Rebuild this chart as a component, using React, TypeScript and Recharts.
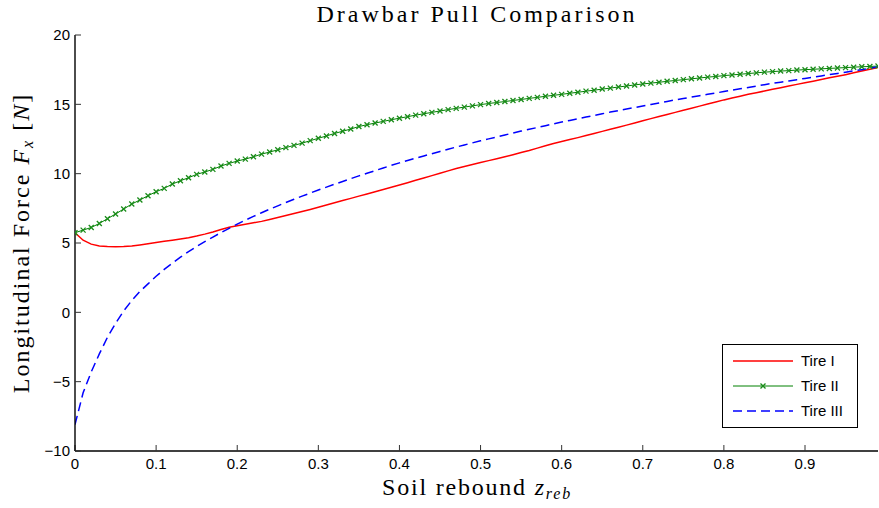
import { LineChart, Line, XAxis, YAxis, Legend } from 'recharts';

const zValues = [
  0, 0.01, 0.02, 0.03, 0.04, 0.05, 0.06, 0.07, 0.08, 0.09,
  0.1, 0.11, 0.12, 0.13, 0.14, 0.15, 0.16, 0.17, 0.18, 0.19,
  0.2, 0.21, 0.22, 0.23, 0.24, 0.25, 0.26, 0.27, 0.28, 0.29,
  0.3, 0.31, 0.32, 0.33, 0.34, 0.35, 0.36, 0.37, 0.38, 0.39,
  0.4, 0.41, 0.42, 0.43, 0.44, 0.45, 0.46, 0.47, 0.48, 0.49,
  0.5, 0.51, 0.52, 0.53, 0.54, 0.55, 0.56, 0.57, 0.58, 0.59,
  0.6, 0.61, 0.62, 0.63, 0.64, 0.65, 0.66, 0.67, 0.68, 0.69,
  0.7, 0.71, 0.72, 0.73, 0.74, 0.75, 0.76, 0.77, 0.78, 0.79,
  0.8, 0.81, 0.82, 0.83, 0.84, 0.85, 0.86, 0.87, 0.88, 0.89,
  0.9, 0.91, 0.92, 0.93, 0.94, 0.95, 0.96, 0.97, 0.98, 0.99,
];

const tire1 = [
  5.74, 5.2, 4.92, 4.78, 4.74, 4.73, 4.74, 4.78, 4.86, 4.95,
  5.04, 5.12, 5.2, 5.29, 5.38, 5.5, 5.64, 5.8, 5.98, 6.14,
  6.25, 6.36, 6.46, 6.56, 6.7, 6.84, 6.98, 7.12, 7.27, 7.42,
  7.58, 7.74, 7.9, 8.06, 8.22, 8.38, 8.54, 8.7, 8.86, 9.02,
  9.18, 9.35, 9.52, 9.69, 9.86, 10.03, 10.2, 10.37, 10.52, 10.66,
  10.8, 10.94, 11.08, 11.22, 11.37, 11.52, 11.67, 11.84, 12.01, 12.18,
  12.32, 12.46, 12.6, 12.75, 12.9, 13.05, 13.2, 13.35, 13.5, 13.66,
  13.82, 13.97, 14.12, 14.27, 14.42, 14.57, 14.72, 14.87, 15.02, 15.17,
  15.32, 15.45, 15.58, 15.72, 15.84, 15.96, 16.08, 16.2, 16.32, 16.44,
  16.55, 16.67, 16.79, 16.91, 17.02, 17.14, 17.27, 17.4, 17.53, 17.66,
];

const tire2 = [
  5.74, 5.93, 6.12, 6.41, 6.75, 7.09, 7.45, 7.81, 8.1, 8.41,
  8.7, 8.94, 9.25, 9.49, 9.71, 9.95, 10.12, 10.31, 10.55, 10.74,
  10.91, 11.05, 11.22, 11.41, 11.56, 11.72, 11.88, 12.04, 12.2, 12.38,
  12.55, 12.72, 12.9, 13.06, 13.22, 13.4, 13.53, 13.65, 13.77, 13.89,
  14.0, 14.11, 14.22, 14.32, 14.42, 14.52, 14.62, 14.71, 14.8, 14.89,
  14.98, 15.06, 15.13, 15.2, 15.28, 15.35, 15.43, 15.5, 15.58, 15.65,
  15.72, 15.8, 15.87, 15.95, 16.02, 16.1, 16.17, 16.25, 16.32, 16.4,
  16.47, 16.53, 16.59, 16.66, 16.72, 16.78, 16.84, 16.9, 16.96, 17.01,
  17.07, 17.12, 17.17, 17.22, 17.27, 17.32, 17.36, 17.4, 17.43, 17.47,
  17.5, 17.53, 17.56, 17.59, 17.62, 17.65, 17.68, 17.71, 17.73, 17.76,
];

const tire3 = [
  -8.1, -5.8, -4.3, -3.0, -1.8, -0.8, 0.1, 0.85, 1.5, 2.05,
  2.6, 3.1, 3.55, 3.98, 4.38, 4.75, 5.1, 5.43, 5.75, 6.06,
  6.36, 6.65, 6.92, 7.18, 7.44, 7.68, 7.92, 8.15, 8.38, 8.6,
  8.82, 9.03, 9.24, 9.44, 9.64, 9.84, 10.03, 10.22, 10.41, 10.6,
  10.78, 10.95, 11.12, 11.28, 11.44, 11.6, 11.76, 11.92, 12.07, 12.22,
  12.37, 12.51, 12.65, 12.79, 12.93, 13.07, 13.2, 13.33, 13.46, 13.59,
  13.72, 13.84, 13.96, 14.08, 14.2, 14.32, 14.44, 14.55, 14.66, 14.77,
  14.88, 14.99, 15.1, 15.21, 15.32, 15.42, 15.52, 15.62, 15.72, 15.82,
  15.92, 16.02, 16.12, 16.22, 16.32, 16.42, 16.51, 16.6, 16.69, 16.78,
  16.87, 16.96, 17.05, 17.14, 17.23, 17.32, 17.41, 17.5, 17.6, 17.72,
];

const xTicks = [0, 0.1, 0.2, 0.3, 0.4, 0.5, 0.6, 0.7, 0.8, 0.9];
const yTicks = [-10, -5, 0, 5, 10, 15, 20];

const seriesNames = ['Tire I', 'Tire II', 'Tire III'];

const data = zValues.map((z, i) => ({ z, tire1: tire1[i], tire2: tire2[i], tire3: tire3[i] }));

const tickFont = { fill: '#000', fontSize: 15, fontFamily: '"Liberation Sans", Arial, sans-serif' };
const serif = '"Liberation Serif", "Times New Roman", serif';

// little "x" marker like matlab's 'x-' style
const Cross = (props: any) => {
  const { cx, cy, index } = props;
  if (cx == null || cy == null) return <g key={index} />;
  const r = 2.5;
  return (
    <path
      key={index}
      d={`M${cx - r},${cy - r}L${cx + r},${cy + r}M${cx - r},${cy + r}L${cx + r},${cy - r}`}
      stroke="#1a8c1a"
      strokeWidth={1.3}
      fill="none"
    />
  );
};

const renderLegend = () => (
  <div style={{ width: 136, height: 84, border: '1.4px solid #000', background: '#fff', boxSizing: 'border-box', fontFamily: '"Liberation Sans", Arial, sans-serif', fontSize: 15, color: '#000' }}>
    {seriesNames.map((name, i) => (
      <div key={name} style={{ display: 'flex', alignItems: 'center', height: 25, marginTop: i === 0 ? 3 : 0 }}>
        <svg width={78} height={12}>
          {i === 0 && <line x1={10} y1={6} x2={70} y2={6} stroke="#ff0000" strokeWidth={1.5} />}
          {i === 1 && (
            <g>
              <line x1={10} y1={6} x2={70} y2={6} stroke="#008000" strokeWidth={1} />
              <path d="M37.5,3.5L42.5,8.5M37.5,8.5L42.5,3.5" stroke="#1a8c1a" strokeWidth={1.3} />
            </g>
          )}
          {i === 2 && <line x1={10} y1={6} x2={70} y2={6} stroke="#0000ff" strokeWidth={1.5} strokeDasharray="9 5" />}
        </svg>
        <span>{name}</span>
      </div>
    ))}
  </div>
);

export default function App() {
  return (
    <div style={{ position: 'absolute', left: 0, top: 0, width: 879, height: 508, background: '#fff' }}>
      <LineChart width={879} height={508} data={data} margin={{ top: 35, right: 1, bottom: 0, left: 0 }}>
        <XAxis
          dataKey="z"
          type="number"
          domain={[0, 0.99]}
          ticks={xTicks}
          allowDataOverflow
          height={57}
          tick={tickFont}
          tickSize={-6}
          tickMargin={13}
          axisLine={{ stroke: '#000', strokeWidth: 1.4 }}
          tickLine={{ stroke: '#333' }}
        />
        <XAxis
          xAxisId="top"
          dataKey="z"
          type="number"
          orientation="top"
          domain={[0, 0.99]}
          ticks={xTicks}
          allowDataOverflow
          height={0}
          tick={false}
          tickSize={-6}
          axisLine={{ stroke: '#000', strokeWidth: 1.4 }}
          tickLine={{ stroke: '#333' }}
        />
        <YAxis
          domain={[-10, 20]}
          ticks={yTicks}
          allowDataOverflow
          width={75}
          tick={tickFont}
          tickSize={-6}
          tickMargin={11}
          tickFormatter={(v: number) => String(v).replace('-', '\u2212')}
          axisLine={{ stroke: '#000', strokeWidth: 1.4 }}
          tickLine={{ stroke: '#333' }}
        />
        <YAxis
          yAxisId="right"
          orientation="right"
          domain={[-10, 20]}
          ticks={yTicks}
          allowDataOverflow
          width={0}
          tick={false}
          tickSize={-6}
          axisLine={{ stroke: '#000', strokeWidth: 1.4 }}
          tickLine={{ stroke: '#333' }}
        />
        <Line dataKey="tire1" name="Tire I" type="linear" stroke="#ff0000" strokeWidth={1.5} dot={false} isAnimationActive={false} />
        <Line dataKey="tire2" name="Tire II" type="linear" stroke="#008000" strokeWidth={1} dot={Cross} activeDot={false} isAnimationActive={false} />
        <Line dataKey="tire3" name="Tire III" type="linear" stroke="#0000ff" strokeWidth={1.5} strokeDasharray="9 5" dot={false} isAnimationActive={false} />
        <Legend
          layout="vertical"
          align="center"
          verticalAlign="middle"
          content={renderLegend}
          wrapperStyle={{ position: 'absolute', left: 722, top: 344, width: 136, height: 84 }}
        />
      </LineChart>

      <div style={{ position: 'absolute', left: 0, width: 954, top: 1, textAlign: 'center', fontFamily: serif, fontSize: 24, letterSpacing: 3, color: '#000', whiteSpace: 'nowrap' }}>
        Drawbar Pull Comparison
      </div>
      <div style={{ position: 'absolute', left: 0, width: 954, top: 474, textAlign: 'center', fontFamily: serif, fontSize: 24, letterSpacing: 1.8, color: '#000', whiteSpace: 'nowrap' }}>
        Soil rebound <i>z</i><sub style={{ fontSize: 16, verticalAlign: -4 }}><i>reb</i></sub>
      </div>
      <div style={{ position: 'absolute', left: 22, top: 243, width: 0, height: 0 }}>
        <div style={{ position: 'absolute', left: 0, top: 0, transform: 'translate(-50%, -50%) rotate(-90deg)', fontFamily: serif, fontSize: 24, letterSpacing: 2, color: '#000', whiteSpace: 'nowrap' }}>
          Longitudinal Force <i>F</i><sub style={{ fontSize: 16, verticalAlign: -4 }}><i>x</i></sub> [<i>N</i>]
        </div>
      </div>
    </div>
  );
}
